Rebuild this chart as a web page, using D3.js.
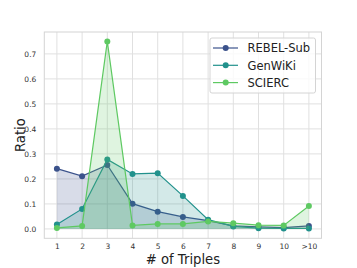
<!DOCTYPE html>
<html>
<head>
<meta charset="utf-8">
<script src="https://cdn.jsdelivr.net/npm/d3@7"></script>
<style>
  body { margin: 0; background: #fff; }
  text { font-family: "DejaVu Sans", sans-serif; }
</style>
</head>
<body>
<div id="chart"></div>
<script>
// tick labels along x
const categories = ["1", "2", "3", "4", "5", "6", "7", "8", "9", "10", ">10"];
const seriesNames = ["REBEL-Sub", "GenWiKi", "SCIERC"];
const rebelSub = [0.241, 0.211, 0.256, 0.101, 0.069, 0.048, 0.033, 0.012, 0.008, 0.005, 0.012];
const genWiki = [0.018, 0.080, 0.278, 0.220, 0.223, 0.132, 0.037, 0.010, 0.003, 0.002, 0.002];
const scierc = [0.004, 0.012, 0.750, 0.014, 0.020, 0.020, 0.030, 0.023, 0.015, 0.014, 0.092];
const yTicks = [0.0, 0.1, 0.2, 0.3, 0.4, 0.5, 0.6, 0.7];
const colors = ["#3b528b", "#21918c", "#5ec962"];

const width = 357, height = 268;
const margin = {top: 32, right: 35.5, bottom: 29.7, left: 44.3};

const svg = d3.select("#chart").append("svg")
    .attr("width", width)
    .attr("height", height);

const x = d3.scaleLinear()
    .domain([-0.5, categories.length - 0.5])
    .range([margin.left, width - margin.right]);

const y = d3.scaleLinear()
    .domain([-0.0375, 0.7875])
    .range([height - margin.bottom, margin.top]);

// grid
svg.append("g")
  .selectAll("line")
  .data(d3.range(categories.length))
  .join("line")
    .attr("x1", i => x(i)).attr("x2", i => x(i))
    .attr("y1", margin.top).attr("y2", height - margin.bottom)
    .attr("stroke", "#e0e0e0").attr("stroke-width", 1);

svg.append("g")
  .selectAll("line")
  .data(yTicks)
  .join("line")
    .attr("x1", margin.left).attr("x2", width - margin.right)
    .attr("y1", d => y(d)).attr("y2", d => y(d))
    .attr("stroke", "#e0e0e0").attr("stroke-width", 1);

// axes (labels only, no tick marks)
const xAxis = d3.axisBottom(x)
    .tickValues(d3.range(categories.length))
    .tickFormat(i => categories[i])
    .tickSize(0).tickPadding(5.5);
svg.append("g")
    .attr("transform", `translate(0,${height - margin.bottom})`)
    .call(xAxis)
    .call(g => g.select(".domain").remove())
    .call(g => g.selectAll("text")
        .attr("font-family", "DejaVu Sans").attr("font-size", 7.5).attr("fill", "#333"));

const yAxis = d3.axisLeft(y)
    .tickValues(yTicks)
    .tickFormat(d3.format(".1f"))
    .tickSize(0).tickPadding(8);
svg.append("g")
    .attr("transform", `translate(${margin.left},0)`)
    .call(yAxis)
    .call(g => g.select(".domain").remove())
    .call(g => g.selectAll("text")
        .attr("font-family", "DejaVu Sans").attr("font-size", 7.5).attr("fill", "#333"));

// frame
svg.append("rect")
    .attr("x", margin.left).attr("y", margin.top)
    .attr("width", width - margin.left - margin.right)
    .attr("height", height - margin.top - margin.bottom)
    .attr("fill", "none").attr("stroke", "#d4d4d4").attr("stroke-width", 1);

// series
const allSeries = [rebelSub, genWiki, scierc];

const area = d3.area()
    .x((d, i) => x(i))
    .y0(y(0))
    .y1(d => y(d));
const line = d3.line()
    .x((d, i) => x(i))
    .y(d => y(d));

allSeries.forEach((vals, k) => {
  svg.append("path")
      .attr("d", area(vals))
      .attr("fill", colors[k])
      .attr("fill-opacity", 0.2);
  svg.append("path")
      .attr("d", line(vals))
      .attr("fill", "none")
      .attr("stroke", colors[k])
      .attr("stroke-width", 1.2);
  svg.append("g")
    .selectAll("circle")
    .data(vals)
    .join("circle")
      .attr("cx", (d, i) => x(i))
      .attr("cy", d => y(d))
      .attr("r", 3)
      .attr("fill", colors[k]);
});

// axis titles
svg.append("text")
    .attr("x", (margin.left + width - margin.right) / 2)
    .attr("y", 264)
    .attr("text-anchor", "middle")
    .attr("font-size", 13.2)
    .attr("fill", "#222")
    .text("# of Triples");

svg.append("text")
    .attr("transform", `translate(25,${(margin.top + height - margin.bottom) / 2}) rotate(-90)`)
    .attr("text-anchor", "middle")
    .attr("font-size", 13.2)
    .attr("fill", "#222")
    .text("Ratio");

// legend
const legend = svg.append("g").attr("transform", "translate(210,38)");
legend.append("rect")
    .attr("width", 105.5).attr("height", 55)
    .attr("rx", 2)
    .attr("fill", "#fff").attr("fill-opacity", 0.8)
    .attr("stroke", "#d4d4d4").attr("stroke-width", 1);

seriesNames.forEach((name, k) => {
  const cy = 10 + k * 17.3;
  legend.append("line")
      .attr("x1", 3).attr("x2", 28)
      .attr("y1", cy).attr("y2", cy)
      .attr("stroke", colors[k]).attr("stroke-width", 1.2);
  legend.append("circle")
      .attr("cx", 15.7).attr("cy", cy).attr("r", 3)
      .attr("fill", colors[k]);
  legend.append("text")
      .attr("x", 37.5).attr("y", cy + 4.2)
      .attr("font-size", 11.5)
      .attr("fill", "#222")
      .text(name);
});
</script>
</body>
</html>
